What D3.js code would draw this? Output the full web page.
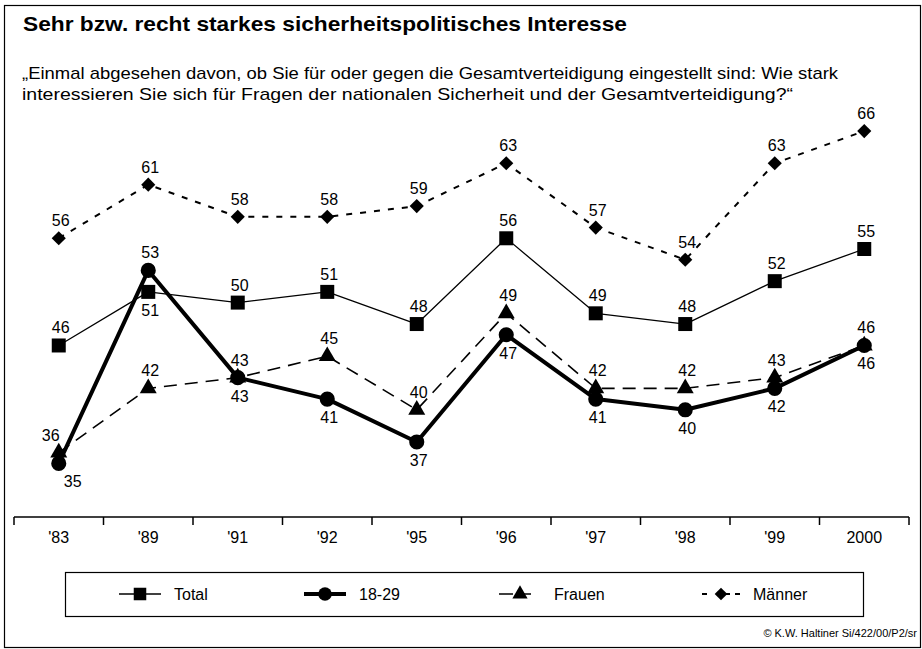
<!DOCTYPE html>
<html>
<head>
<meta charset="utf-8">
<script src="https://cdn.jsdelivr.net/npm/d3@7"></script>
<style>
  html, body { margin: 0; padding: 0; background: #fff; }
  svg { display: block; font-family: "Liberation Sans", Arial, sans-serif; }
</style>
</head>
<body>
<svg id="chart" width="922" height="649"></svg>
<script>
// Survey years
const years = ["'83", "'89", "'91", "'92", "'95", "'96", "'97", "'98", "'99", "2000"];

// Share with a strong or fairly strong interest (percent)
const total   = [46, 51, 50, 51, 48, 56, 49, 48, 52, 55];
const young   = [35, 53, 43, 41, 37, 47, 41, 40, 42, 46];
const frauen  = [36, 42, 43, 45, 40, 49, 42, 42, 43, 46];
const maenner = [56, 61, 58, 58, 59, 63, 57, 54, 63, 66];

// Where each value label sits relative to its marker
const totalLabelPos   = ["up", "down", "up", "up", "up", "up", "up", "up", "up", "up"];
const youngLabelPos   = ["down", "up", "down", "down", "down", "down", "down", "down", "down", "down"];
const frauenLabelPos  = ["up", "up", "up", "up", "up", "up", "up", "up", "up", "up"];
const maennerLabelPos = ["up", "up", "up", "up", "up", "up", "up", "up", "up", "up"];

const seriesNames = ["Total", "18-29", "Frauen", "Männer"];

const svg = d3.select("#chart");

// page frame
svg.append("rect")
  .attr("x", 4.5).attr("y", 5.5).attr("width", 916).attr("height", 642)
  .attr("fill", "none").attr("stroke", "#000").attr("stroke-width", 1.2);

// title and question
svg.append("text")
  .attr("x", 23).attr("y", 31)
  .attr("font-size", 21).attr("font-weight", "bold")
  .attr("textLength", 604).attr("lengthAdjust", "spacingAndGlyphs")
  .text("Sehr bzw. recht starkes sicherheitspolitisches Interesse");

svg.append("text")
  .attr("x", 22).attr("y", 79)
  .attr("font-size", 17)
  .attr("textLength", 816).attr("lengthAdjust", "spacingAndGlyphs")
  .text("„Einmal abgesehen davon, ob Sie für oder gegen die Gesamtverteidigung eingestellt sind: Wie stark");
svg.append("text")
  .attr("x", 22).attr("y", 100)
  .attr("font-size", 17)
  .attr("textLength", 771).attr("lengthAdjust", "spacingAndGlyphs")
  .text("interessieren Sie sich für Fragen der nationalen Sicherheit und der Gesamtverteidigung?“");

// scales
const x = d3.scaleBand().domain(years).range([14, 909]).padding(0);
const y = d3.scaleLinear().domain([30, 70]).range([517, 88.2]);
const cx = d => x(d) + x.bandwidth() / 2;

// x axis: baseline with ticks on the category boundaries
const axis = svg.append("g");
axis.append("line")
  .attr("x1", x.range()[0]).attr("x2", x.range()[1])
  .attr("y1", y(30)).attr("y2", y(30))
  .attr("stroke", "#000").attr("stroke-width", 1.5);
const bounds = years.map(d => x(d)).concat([x.range()[1]]);
axis.selectAll("line.tick").data(bounds).join("line")
  .attr("class", "tick")
  .attr("x1", d => d).attr("x2", d => d)
  .attr("y1", y(30)).attr("y2", y(30) + 8)
  .attr("stroke", "#000").attr("stroke-width", 1.5);
axis.selectAll("text").data(years).join("text")
  .attr("x", d => cx(d)).attr("y", 543)
  .attr("text-anchor", "middle").attr("font-size", 16)
  .text(d => d);

// series definitions
const series = [
  { name: seriesNames[0], values: total,   pos: totalLabelPos,   width: 1.3, dash: null,    symbol: "square" },
  { name: seriesNames[1], values: young,   pos: youngLabelPos,   width: 4,   dash: null,    symbol: "circle" },
  { name: seriesNames[2], values: frauen,  pos: frauenLabelPos,  width: 1.6, dash: "13,8",  symbol: "triangle" },
  { name: seriesNames[3], values: maenner, pos: maennerLabelPos, width: 2,   dash: "6,8",   symbol: "diamond" }
];

function symbolPath(kind, scale) {
  if (kind === "square")   return d3.symbol(d3.symbolSquare, 196 * scale)();
  if (kind === "circle")   return d3.symbol(d3.symbolCircle, 180 * scale)();
  if (kind === "triangle") return d3.symbol(d3.symbolTriangle, 125 * scale)();
  return d3.symbol(d3.symbolSquare, 100 * scale)();
}
function symbolRotate(kind) { return kind === "diamond" ? 45 : 0; }

const line = d3.line().x((d, i) => cx(years[i])).y(d => y(d));

// draw order: lines below markers
const drawOrder = [3, 0, 2, 1];
drawOrder.forEach(k => {
  const s = series[k];
  svg.append("path")
    .datum(s.values)
    .attr("d", line)
    .attr("fill", "none")
    .attr("stroke", "#000")
    .attr("stroke-width", s.width)
    .attr("stroke-linejoin", "round")
    .attr("stroke-dasharray", s.dash);
});
drawOrder.forEach(k => {
  const s = series[k];
  svg.append("g").selectAll("path").data(s.values).join("path")
    .attr("d", symbolPath(s.symbol, 1))
    .attr("transform", (d, i) => `translate(${cx(years[i])},${y(d)}) rotate(${symbolRotate(s.symbol)})`)
    .attr("fill", "#000");
});

// value labels
const labelNudge = { "2-0": -10, "1-0": 12 };
series.forEach((s, k) => {
  svg.append("g").selectAll("text").data(s.values).join("text")
    .attr("x", (d, i) => cx(years[i]) + 2 + (labelNudge[k + "-" + i] || 0))
    .attr("y", (d, i) => s.pos[i] === "up" ? y(d) - 12 : y(d) + 24)
    .attr("text-anchor", "middle")
    .attr("font-size", 16)
    .text(d => d);
});

// legend
const legend = svg.append("g");
legend.append("rect")
  .attr("x", 65.5).attr("y", 572.5).attr("width", 798).attr("height", 44)
  .attr("fill", "none").attr("stroke", "#000").attr("stroke-width", 1.2);
const legendX = [119, 304, 499, 702];
series.forEach((s, k) => {
  const g = legend.append("g").attr("transform", `translate(${legendX[k]},594)`);
  const len = s.symbol === "diamond" ? 38 : 42;
  g.append("line")
    .attr("x1", 0).attr("x2", len).attr("y1", 0).attr("y2", 0)
    .attr("stroke", "#000").attr("stroke-width", s.width)
    .attr("stroke-dasharray", s.symbol === "triangle" ? "14,5,13" : (s.symbol === "diamond" ? "5,10,0,8,5" : null));
  g.append("path")
    .attr("d", symbolPath(s.symbol, 0.8))
    .attr("transform", `translate(${len / 2},0) rotate(${symbolRotate(s.symbol)})`)
    .attr("fill", "#000");
  g.append("text")
    .attr("x", len + 13).attr("y", 6)
    .attr("font-size", 16)
    .text(s.name);
});

// source line
svg.append("text")
  .attr("x", 917).attr("y", 637)
  .attr("text-anchor", "end").attr("font-size", 11)
  .text("© K.W. Haltiner Si/422/00/P2/sr");
</script>
</body>
</html>
